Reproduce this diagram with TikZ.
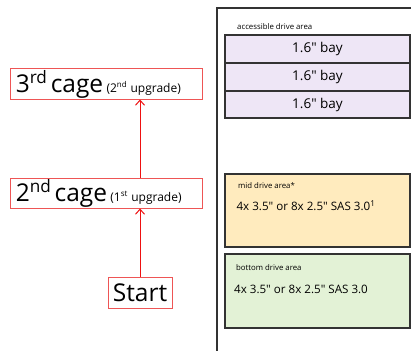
\documentclass[tikz,border=0pt]{standalone}
\usepackage{fontspec}
\setmainfont{Open Sans}
\usetikzlibrary{arrows.meta}
\definecolor{redbox}{HTML}{EE5555}
\definecolor{redarrow}{HTML}{EE1111}
\definecolor{baycol}{HTML}{EEE6F6}
\definecolor{midcol}{HTML}{FFEBBE}
\definecolor{botcol}{HTML}{E3F2D6}
\definecolor{edge}{HTML}{333333}
\newcommand{\bigsz}{\fontsize{24.5}{26}\selectfont}
\newcommand{\smallsz}{\fontsize{12}{13}\selectfont}
\newcommand{\qt}{\textquotedbl}
\tikzset{
  cagebox/.style={draw=redbox, line width=1pt, inner sep=0pt, minimum height=30pt},
  upar/.style={draw=redarrow, line width=1pt, -{Straight Barb[length=5pt,width=9pt]}},
  drivebox/.style={draw=edge, line width=1.2pt, minimum width=185pt, inner sep=0pt},
  areatext/.style={font=\fontsize{7.8}{9}\selectfont, anchor=west, inner sep=0pt},
  baytext/.style={font=\fontsize{13.5}{15}\selectfont, inner sep=0pt},
  sastext/.style={font=\fontsize{11.6}{13}\selectfont, inner sep=0pt},
}
\begin{document}
\begin{tikzpicture}[x=1pt,y=-1pt]
\useasboundingbox (0,0) rectangle (411,350);
\clip (0,0) rectangle (411,350);
\fill[white] (0,0) rectangle (411,350);

% left flow
\node[cagebox, minimum width=191.5pt, text width=181pt, align=left, inner xsep=5pt] (c3) at (106.25,84)
  {\bigsz 3\textsuperscript{rd} cage \smallsz(2\textsuperscript{nd} upgrade)};
\node[cagebox, minimum width=191.5pt, text width=181pt, align=left, inner xsep=5pt] (c2) at (106.25,193)
  {\bigsz 2\textsuperscript{nd} cage \smallsz(1\textsuperscript{st} upgrade)};
\node[cagebox, minimum width=64pt, minimum height=31pt, font=\bigsz] (st) at (140,292.5) {Start};
\draw[upar] (st.north) -- (st.north |- c2.south);
\draw[upar] (st.north |- c2.north) -- (st.north |- c3.south);

% right outer frame
\coordinate (fb) at (217,352);
\coordinate (ft) at (217,8);
\coordinate (fr) at (415,8);
\draw[draw=edge, line width=1.2pt] (fb) -- (ft) -- (fr);

\node[areatext] (acc) at (237,27) {accessible drive area};
\node[drivebox, fill=baycol, minimum height=28pt, baytext] (b1) at (317.5,49) {1.6\qt{} bay};
\node[drivebox, fill=baycol, minimum height=28pt, baytext] (b2) at (317.5,77) {1.6\qt{} bay};
\node[drivebox, fill=baycol, minimum height=27pt, baytext] (b3) at (317.5,104.5) {1.6\qt{} bay};

\node[drivebox, fill=midcol, minimum height=73pt] (mid) at (317.5,210.5) {};
\node[areatext] (midl) at (238,186) {mid drive area*};
\node[sastext] (midt) at (306,206) {4x 3.5\qt{} or 8x 2.5\qt{} SAS 3.0\textsuperscript{1}};

\node[drivebox, fill=botcol, minimum height=74pt] (bot) at (317.5,291) {};
\node[areatext] (botl) at (236,268) {bottom drive area};
\node[sastext] (bott) at (301,289) {4x 3.5\qt{} or 8x 2.5\qt{} SAS 3.0};
\end{tikzpicture}
\end{document}
